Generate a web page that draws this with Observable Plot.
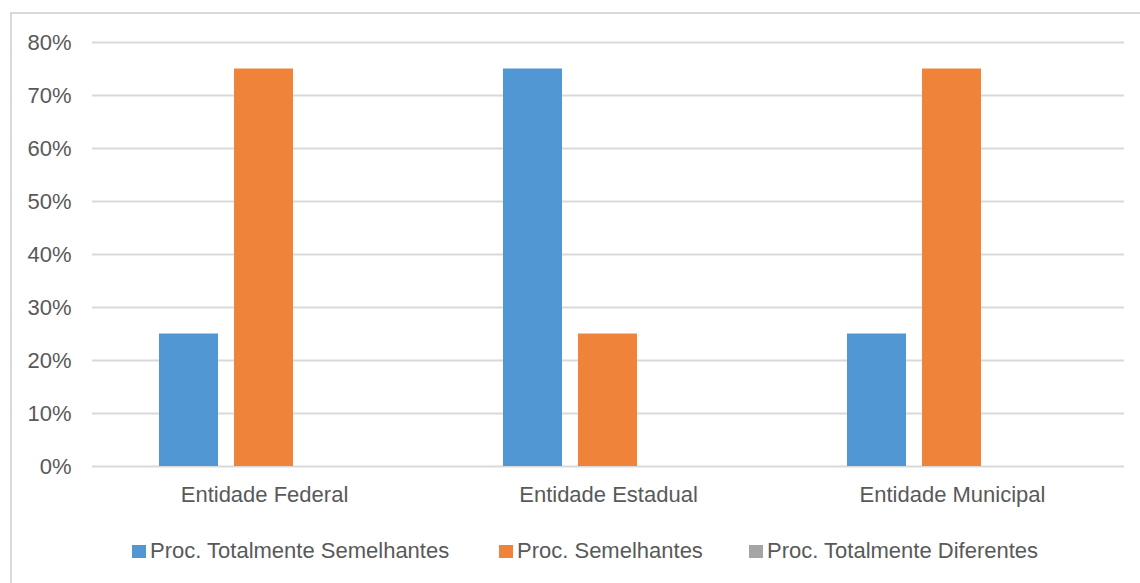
<!DOCTYPE html>
<html>
<head>
<meta charset="utf-8">
<script src="https://cdn.jsdelivr.net/npm/d3@7"></script>
<script src="https://cdn.jsdelivr.net/npm/@observablehq/plot@0.6"></script>
<style>
  html, body { margin: 0; padding: 0; background: #fff; width: 1140px; height: 583px; overflow: hidden; }
  #frame { position: absolute; left: 10px; top: 12px; width: 1200px; height: 650px; border: 2px solid #d9d9d9; box-sizing: border-box; }
  #chart { position: absolute; left: 0; top: 0; }
  #legend { position: absolute; top: 538px; left: 0; width: 1140px; height: 24px; font-family: "Liberation Sans Narrow", "Arial Narrow", sans-serif; font-size: 22px; color: #595959; }
  .item { position: absolute; top: 0; display: flex; align-items: center; white-space: nowrap; }
  .sw { width: 14px; height: 13px; margin-right: 4px; }
</style>
</head>
<body>
<div id="frame"></div>
<div id="chart"></div>
<div id="legend"></div>
<script>
const categories = ["Entidade Federal", "Entidade Estadual", "Entidade Municipal"];
const seriesNames = ["Proc. Totalmente Semelhantes", "Proc. Semelhantes", "Proc. Totalmente Diferentes"];
const totalmenteSemelhantes = [0.25, 0.75, 0.25];
const semelhantes = [0.75, 0.25, 0.75];
const totalmenteDiferentes = [0, 0, 0];
const yTicks = [0, 0.1, 0.2, 0.3, 0.4, 0.5, 0.6, 0.7, 0.8];
const colors = ["#5097D3", "#F0833A", "#A5A5A5"];

const seriesValues = [totalmenteSemelhantes, semelhantes, totalmenteDiferentes];
const rows = [];
categories.forEach((c, i) => {
  seriesNames.forEach((s, j) => rows.push({cat: c, series: s, value: seriesValues[j][i]}));
});

const font = '"Liberation Sans Narrow", "Arial Narrow", sans-serif';

const chart = Plot.plot({
  width: 1140,
  height: 520,
  marginLeft: 91,
  marginRight: 16,
  marginTop: 42,
  marginBottom: 54,
  style: {fontFamily: font, fontSize: "22px", color: "#595959", background: "transparent"},
  facet: {data: rows, x: "cat"},
  fx: {domain: categories, padding: 0, label: null, axis: "bottom", tickSize: 0, tickPadding: 20},
  x: {domain: seriesNames, axis: null, paddingInner: 0.21, paddingOuter: 0.87},
  y: {domain: [0, 0.8], ticks: yTicks, tickFormat: d3.format(".0%"), tickSize: 0, tickPadding: 21, label: null},
  color: {domain: seriesNames, range: colors},
  marks: [
    Plot.ruleY(yTicks, {stroke: "#d9d9d9", strokeWidth: 2}),
    Plot.barY(rows, {x: "series", y: "value", fill: "series"})
  ]
});
// remove Plot's warning glyph, if any
chart.querySelectorAll("text").forEach(t => {
  if (t.textContent && t.textContent.indexOf("\u26a0") === 0) t.remove();
});
document.getElementById("chart").appendChild(chart);

const legend = document.getElementById("legend");
const lefts = [132, 499, 749];
seriesNames.forEach((s, j) => {
  const it = document.createElement("div");
  it.className = "item";
  it.style.left = lefts[j] + "px";
  const sw = document.createElement("span");
  sw.className = "sw";
  sw.style.background = colors[j];
  const t = document.createElement("span");
  t.textContent = s;
  it.appendChild(sw);
  it.appendChild(t);
  legend.appendChild(it);
});
</script>
</body>
</html>
